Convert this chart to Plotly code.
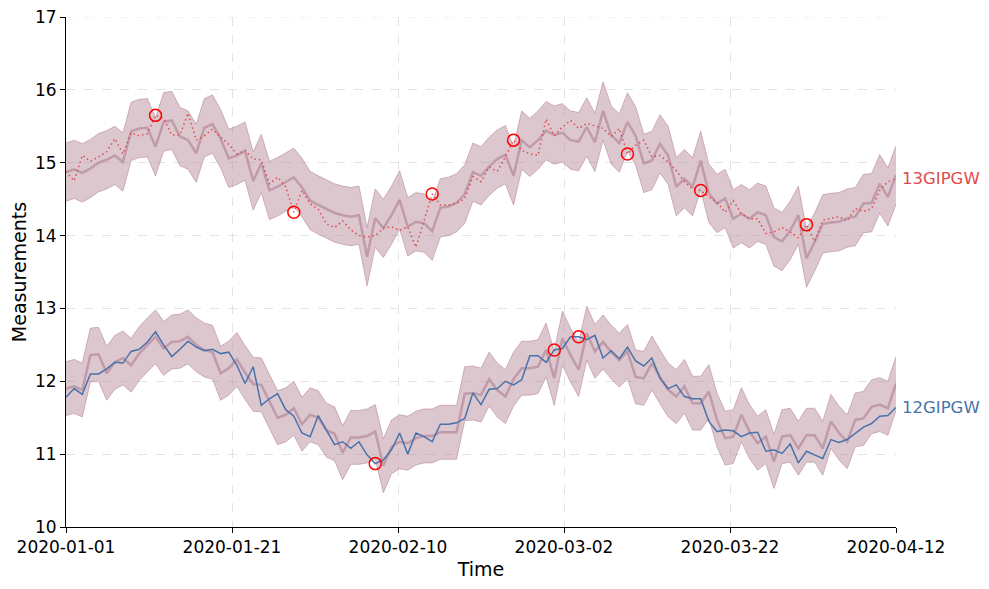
import numpy as np
import pandas as pd
import plotly.graph_objects as go

start_date = "2020-01-01"
n_points = 103

series_13_actual = [14.88, 14.75, 15.10, 15.02, 15.08, 15.15, 15.33, 15.12, 15.41, 15.37,
                    15.40, 15.65, 15.61, 15.38, 15.38, 15.68, 15.31, 15.37, 15.46, 15.35,
                    15.25, 15.12, 15.17, 15.05, 15.04, 14.71, 14.80, 14.67, 14.32, 14.62,
                    14.44, 14.36, 14.16, 14.11, 14.20, 14.08, 14.00, 13.98, 14.00, 14.10,
                    14.12, 14.07, 14.12, 13.84, 14.19, 14.57, 14.42, 14.42, 14.44, 14.51,
                    14.81, 14.74, 14.94, 14.88, 15.08, 15.31, 15.17, 15.12, 15.10, 15.60,
                    15.37, 15.49, 15.58, 15.47, 15.54, 15.51, 15.47, 15.36, 15.47, 15.12,
                    15.24, 15.31, 15.08, 15.10, 15.01, 14.89, 14.74, 14.64, 14.62, 14.53,
                    14.46, 14.32, 14.48, 14.30, 14.23, 14.23, 14.03, 14.05, 14.11, 14.05,
                    13.97, 14.15, 13.92, 14.21, 14.23, 14.26, 14.20, 14.37, 14.33, 14.37,
                    14.62, 14.74, 14.78]

series_13_center = [14.87, 14.91, 14.86, 14.92, 15.00, 15.04, 15.10, 15.01, 15.43, 15.47,
                    15.48, 15.22, 15.56, 15.58, 15.36, 15.31, 15.13, 15.48, 15.53, 15.33,
                    15.06, 15.10, 15.16, 14.75, 14.99, 14.62, 14.67, 14.73, 14.80, 14.66,
                    14.48, 14.42, 14.37, 14.31, 14.28, 14.26, 14.28, 13.71, 14.24, 14.10,
                    14.28, 14.49, 14.12, 14.19, 14.17, 14.06, 14.38, 14.40, 14.45, 14.57,
                    14.87, 14.82, 14.95, 15.05, 15.11, 14.82, 15.31, 15.21, 15.31, 15.44,
                    15.38, 15.41, 15.31, 15.29, 15.49, 15.28, 15.71, 15.38, 15.27, 15.56,
                    15.37, 14.99, 15.03, 15.26, 15.10, 14.67, 14.78, 14.67, 15.03, 14.58,
                    14.44, 14.51, 14.23, 14.30, 14.23, 14.32, 14.28, 13.98, 13.92, 14.07,
                    14.28, 13.69, 13.91, 14.16, 14.18, 14.19, 14.24, 14.26, 14.44, 14.45,
                    14.71, 14.53, 14.83]

series_12_actual = [11.78, 11.90, 11.82, 12.10, 12.10, 12.17, 12.26, 12.25, 12.41, 12.44,
                    12.54, 12.68, 12.50, 12.34, 12.44, 12.55, 12.47, 12.42, 12.44, 12.38,
                    12.40, 12.22, 11.97, 12.20, 11.67, 11.76, 11.83, 11.61, 11.52, 11.29,
                    11.24, 11.53, 11.33, 11.13, 11.17, 11.08, 11.17, 10.99, 10.87, 10.92,
                    11.06, 11.29, 11.00, 11.29, 11.24, 11.17, 11.41, 11.41, 11.43, 11.49,
                    11.84, 11.68, 11.89, 11.90, 12.00, 11.95, 12.02, 12.35, 12.35, 12.26,
                    12.43, 12.45, 12.61, 12.61, 12.57, 12.63, 12.32, 12.42, 12.31, 12.47,
                    12.28, 12.21, 12.32, 12.04, 11.90, 11.95, 11.79, 11.76, 11.76, 11.45,
                    11.31, 11.33, 11.32, 11.24, 11.29, 11.30, 11.04, 11.06, 11.01, 11.14,
                    10.88, 11.04, 10.99, 10.94, 11.20, 11.16, 11.20, 11.29, 11.37, 11.42,
                    11.52, 11.53, 11.64]

series_12_center = [11.90, 11.93, 11.88, 12.36, 12.37, 12.11, 12.26, 12.32, 12.22, 12.38,
                    12.50, 12.61, 12.45, 12.54, 12.55, 12.61, 12.50, 12.43, 12.40, 12.11,
                    12.18, 12.30, 12.12, 11.96, 11.95, 11.72, 11.50, 11.54, 11.63, 11.41,
                    11.54, 11.50, 11.33, 11.28, 11.02, 11.23, 11.23, 11.25, 11.31, 10.84,
                    11.10, 11.17, 11.15, 11.22, 11.25, 11.25, 11.30, 11.30, 11.30, 11.83,
                    11.84, 11.81, 12.03, 11.88, 11.79, 12.03, 12.18, 12.18, 12.20, 12.43,
                    12.04, 12.59, 12.36, 12.16, 12.66, 12.41, 12.54, 12.40, 12.29, 12.41,
                    12.06, 12.04, 12.25, 12.06, 11.88, 11.79, 11.93, 11.70, 11.70, 11.86,
                    11.47, 11.22, 11.24, 11.54, 11.31, 11.15, 11.24, 10.90, 11.24, 11.26,
                    11.08, 11.26, 11.26, 11.08, 11.45, 11.29, 11.17, 11.47, 11.49, 11.65,
                    11.68, 11.63, 11.97]

band_half_13 = 0.40
band_half_12 = 0.37

anomalies_13 = [11, 28, 45, 55, 69, 78, 91]
anomalies_12 = [38, 60, 63]

names = ["13GIPGW", "12GIPGW"]
y_ticks = [10, 11, 12, 13, 14, 15, 16, 17]

dates = pd.date_range(start_date, periods=n_points, freq="D")

RED = "#e04b4b"
BLUE = "#4a72aa"
FILL = "rgba(188,143,160,0.5)"
EDGE = "rgba(178,128,148,0.55)"
CENTER = "rgba(168,118,138,0.55)"
GRID = "#e3e3e3"

fig = go.Figure()


def add_band(center, half):
    c = np.array(center)
    fig.add_trace(go.Scatter(x=dates, y=c - half, mode="lines",
                             line=dict(color=EDGE, width=1), hoverinfo="skip",
                             showlegend=False))
    fig.add_trace(go.Scatter(x=dates, y=c + half, mode="lines", fill="tonexty",
                             fillcolor=FILL, line=dict(color=EDGE, width=1),
                             hoverinfo="skip", showlegend=False))
    fig.add_trace(go.Scatter(x=dates, y=c, mode="lines",
                             line=dict(color=CENTER, width=2.5), showlegend=False))


add_band(series_13_center, band_half_13)
add_band(series_12_center, band_half_12)

fig.add_trace(go.Scatter(x=dates, y=series_13_actual, mode="lines", name=names[0],
                         line=dict(color=RED, width=1.5, dash="1.5px,3px"), showlegend=False))
fig.add_trace(go.Scatter(x=dates, y=series_12_actual, mode="lines", name=names[1],
                         line=dict(color=BLUE, width=1.5), showlegend=False))

for actual, idx in [(series_13_actual, anomalies_13), (series_12_actual, anomalies_12)]:
    fig.add_trace(go.Scatter(x=dates[idx], y=[actual[i] for i in idx], mode="markers",
                             marker=dict(symbol="circle-open", size=12, color="red",
                                         line=dict(color="red", width=1.5)),
                             showlegend=False))

for name, actual, col in [(names[0], series_13_actual, RED), (names[1], series_12_actual, BLUE)]:
    fig.add_annotation(x=dates[-1], y=actual[-1], text=name, showarrow=False,
                       xanchor="left", yanchor="middle", xshift=4,
                       font=dict(color=col, size=16.5, family="DejaVu Sans"))

# top grid line at the upper edge of the y range
fig.add_shape(type="line", xref="paper", x0=0, x1=1, yref="y", y0=y_ticks[-1], y1=y_ticks[-1],
              line=dict(color=GRID, width=0.8, dash="dash"), layer="below")

tick_pos = np.linspace(0, n_points - 1, 6)
tick_vals = [dates[0] + pd.Timedelta(days=float(p)) for p in tick_pos]
tick_text = [dates[int(np.floor(p))].strftime("%Y-%m-%d") for p in tick_pos]

fig.update_layout(
    width=981, height=581,
    margin=dict(l=58, r=93, t=9, b=62),
    plot_bgcolor="white", paper_bgcolor="white",
    font=dict(family="DejaVu Sans", size=16, color="black"),
    showlegend=False,
)
fig.update_xaxes(
    range=[dates[0], dates[-1]], tickvals=tick_vals, ticktext=tick_text,
    showline=True, linecolor="black", linewidth=1, ticks="outside", ticklen=5,
    tickcolor="black", showgrid=True, gridcolor=GRID, griddash="dash", gridwidth=0.8,
    zeroline=False, title=dict(text="Time", font=dict(size=19), standoff=6),
    tickfont=dict(size=17), ticklabeloverflow="allow", automargin=False,
)
fig.update_yaxes(
    range=[10, 17], tickvals=y_ticks,
    showline=True, linecolor="black", linewidth=1, ticks="outside", ticklen=5,
    tickcolor="black", showgrid=True, gridcolor=GRID, griddash="dash", gridwidth=0.8,
    zeroline=False, title=dict(text="Measurements", font=dict(size=19), standoff=8),
    tickfont=dict(size=17), ticklabeloverflow="allow", automargin=False,
)

fig.write_html("out.html")
